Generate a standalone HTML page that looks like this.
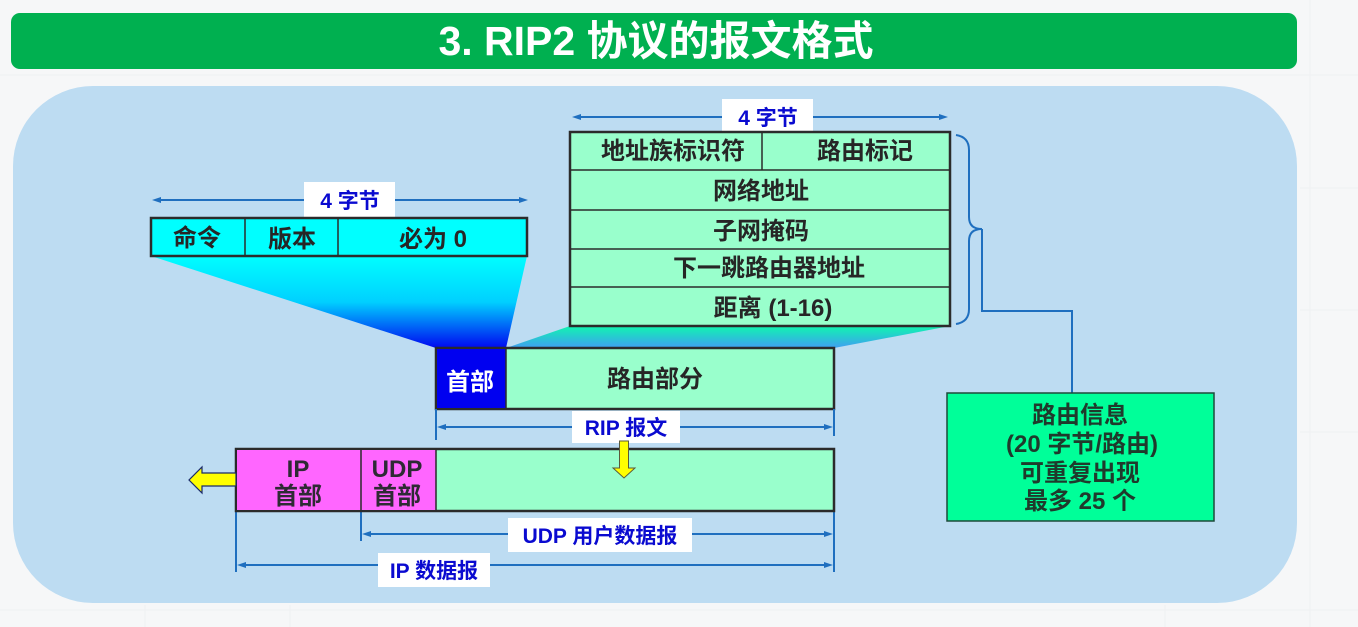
<!DOCTYPE html>
<html><head><meta charset="utf-8">
<style>
html,body{margin:0;padding:0;background:#f6f7f8;}
body{width:1358px;height:627px;overflow:hidden;}
svg{display:block;}
text{font-family:"Liberation Sans","Noto Sans CJK SC",sans-serif;font-weight:bold;}
</style></head>
<body>
<svg width="1358" height="627" viewBox="0 0 1358 627" xmlns="http://www.w3.org/2000/svg">
<defs>
<linearGradient id="g1" x1="0" y1="0" x2="0" y2="1">
<stop offset="0" stop-color="#00ffff"/><stop offset="0.5" stop-color="#00d0ff"/><stop offset="1" stop-color="#0008f0"/>
</linearGradient>
<linearGradient id="g2" x1="0" y1="0" x2="0" y2="1">
<stop offset="0" stop-color="#10f5b0"/><stop offset="1" stop-color="#3f9ff2"/>
</linearGradient>
</defs>
<!-- faint grid -->
<g stroke="#eff0f2" stroke-width="1">
<line x1="0" y1="75" x2="1358" y2="75"/>
<line x1="1300" y1="188" x2="1358" y2="188"/><line x1="1300" y1="310" x2="1358" y2="310"/>
<line x1="1300" y1="432" x2="1358" y2="432"/><line x1="0" y1="610" x2="1358" y2="610"/>
<line x1="145" y1="605" x2="145" y2="627"/><line x1="290" y1="605" x2="290" y2="627"/>
<line x1="1165" y1="605" x2="1165" y2="627"/><line x1="1310" y1="0" x2="1310" y2="627"/>
</g>
<!-- title bar -->
<rect x="11" y="13" width="1286" height="56" rx="9" fill="#00b050"/>
<text x="656" y="55" font-size="41" fill="#ffffff" text-anchor="middle">3. RIP2 协议的报文格式</text>
<!-- panel -->
<rect x="13" y="86" width="1284" height="517" rx="80" fill="#bddcf2"/>

<!-- fans -->
<polygon points="151,256 527,256 506,348 436,348" fill="url(#g1)"/>
<polygon points="570,326 950,326 834,348 506,348" fill="url(#g2)"/>

<!-- 4 bytes arrows -->
<g stroke="#1f6fbf" stroke-width="2" fill="#1f6fbf">
<line x1="158" y1="200" x2="522" y2="200"/>
<polygon points="152,200 161,197 161,203" stroke="none"/>
<polygon points="528,200 519,197 519,203" stroke="none"/>
<line x1="578" y1="117" x2="942" y2="117"/>
<polygon points="572,117 581,114 581,120" stroke="none"/>
<polygon points="948,117 939,114 939,120" stroke="none"/>
</g>
<rect x="304" y="182" width="91" height="35" fill="#ffffff"/>
<text x="350" y="208" font-size="21" fill="#0a0ad0" text-anchor="middle">4 字节</text>
<rect x="722" y="99" width="91" height="33" fill="#ffffff"/>
<text x="768" y="125" font-size="21" fill="#0a0ad0" text-anchor="middle">4 字节</text>

<!-- header table -->
<rect x="151" y="218" width="376" height="38" fill="#00ffff" stroke="#2b2b2b" stroke-width="2.5"/>
<line x1="245" y1="218" x2="245" y2="256" stroke="#2b2b2b" stroke-width="1.5"/>
<line x1="338" y1="218" x2="338" y2="256" stroke="#2b2b2b" stroke-width="1.5"/>
<g font-size="24" fill="#262626" text-anchor="middle">
<text x="197" y="246">命令</text>
<text x="292" y="247">版本</text>
<text x="433" y="247">必为 0</text>
</g>

<!-- routing table -->
<rect x="570" y="132" width="380" height="194" fill="#99ffcc" stroke="#2b2b2b" stroke-width="2.5"/>
<g stroke="#2b2b2b" stroke-width="1.5">
<line x1="570" y1="170" x2="950" y2="170"/>
<line x1="570" y1="210" x2="950" y2="210"/>
<line x1="570" y1="249" x2="950" y2="249"/>
<line x1="570" y1="287" x2="950" y2="287"/>
<line x1="762" y1="132" x2="762" y2="170"/>
</g>
<g font-size="24" fill="#262626" text-anchor="middle">
<text x="673" y="159">地址族标识符</text>
<text x="865" y="159">路由标记</text>
<text x="761" y="199">网络地址</text>
<text x="761" y="239">子网掩码</text>
<text x="769" y="276">下一跳路由器地址</text>
<text x="773" y="316">距离 (1-16)</text>
</g>

<!-- brace + connector -->
<path d="M956,135 Q969,137 969,150 L969,217 Q969,229 982,229 Q969,229 969,241 L969,309 Q969,322 956,324" fill="none" stroke="#1f6fbf" stroke-width="2"/>
<polyline points="982,229 982,311 1072,311 1072,393" fill="none" stroke="#1f6fbf" stroke-width="2"/>

<!-- info box -->
<rect x="947" y="393" width="267" height="128" fill="#00ff99" stroke="#1f4a3a" stroke-width="1.5"/>
<g font-size="24" fill="#1f3a2c" text-anchor="middle">
<text x="1080" y="423">路由信息</text>
<text x="1082" y="452">(20 字节/路由)</text>
<text x="1080" y="481">可重复出现</text>
<text x="1080" y="509">最多 25 个</text>
</g>

<!-- RIP message -->
<rect x="436" y="348" width="398" height="61" fill="#99ffcc" stroke="#2b2b2b" stroke-width="2.5"/>
<rect x="437" y="349" width="69" height="59" fill="#0000f0"/>
<line x1="506" y1="348" x2="506" y2="409" stroke="#2b2b2b" stroke-width="1.5"/>
<text x="470" y="390" font-size="24" fill="#ffffff" text-anchor="middle">首部</text>
<text x="655" y="387" font-size="24" fill="#262626" text-anchor="middle">路由部分</text>

<!-- dimension lines -->
<g stroke="#1f6fbf" stroke-width="2" fill="#1f6fbf">
<line x1="436" y1="409" x2="436" y2="440"/>
<line x1="834" y1="409" x2="834" y2="436"/>
<line x1="443" y1="427" x2="828" y2="427"/>
<polygon points="437,427 446,424 446,430" stroke="none"/>
<polygon points="833,427 824,424 824,430" stroke="none"/>
<line x1="361" y1="511" x2="361" y2="541"/>
<line x1="834" y1="511" x2="834" y2="572"/>
<line x1="236" y1="511" x2="236" y2="572"/>
<line x1="368" y1="534" x2="828" y2="534"/>
<polygon points="362,534 371,531 371,537" stroke="none"/>
<polygon points="833,534 824,531 824,537" stroke="none"/>
<line x1="243" y1="565" x2="828" y2="565"/>
<polygon points="237,565 246,562 246,568" stroke="none"/>
<polygon points="833,565 824,562 824,568" stroke="none"/>
</g>

<!-- UDP/IP packet -->
<rect x="236" y="449" width="598" height="62" fill="#99ffcc" stroke="#2b2b2b" stroke-width="2.5"/>
<rect x="237" y="450" width="199" height="60" fill="#ff66ff"/>
<line x1="236" y1="449" x2="236" y2="511" stroke="#2b2b2b" stroke-width="1.5"/>
<line x1="361" y1="449" x2="361" y2="511" stroke="#2b2b2b" stroke-width="1.5"/>
<line x1="436" y1="449" x2="436" y2="511" stroke="#2b2b2b" stroke-width="1.5"/>
<g font-size="24" fill="#2e2a34" text-anchor="middle">
<text x="298" y="477">IP</text>
<text x="298" y="504">首部</text>
<text x="397" y="477">UDP</text>
<text x="397" y="504">首部</text>
</g>

<!-- labels -->
<rect x="572" y="411" width="108" height="32" fill="#ffffff"/>
<text x="626" y="435" font-size="21" fill="#0a0ad0" text-anchor="middle">RIP 报文</text>
<rect x="508" y="518" width="184" height="34" fill="#ffffff"/>
<text x="600" y="543" font-size="21" fill="#0a0ad0" text-anchor="middle">UDP 用户数据报</text>
<rect x="378" y="553" width="112" height="34" fill="#ffffff"/>
<text x="434" y="578" font-size="21" fill="#0a0ad0" text-anchor="middle">IP 数据报</text>

<!-- yellow arrows -->
<polygon points="619.5,441 628.5,441 628.5,468 635,468 624,478 613,468 619.5,468" fill="#ffff00" stroke="#5a5a3a" stroke-width="1"/>
<polygon points="236,473 202,473 202,467 189,480 202,493 202,486 236,486" fill="#ffff00" stroke="#1a2a6a" stroke-width="1.2"/>
</svg>
</body></html>
